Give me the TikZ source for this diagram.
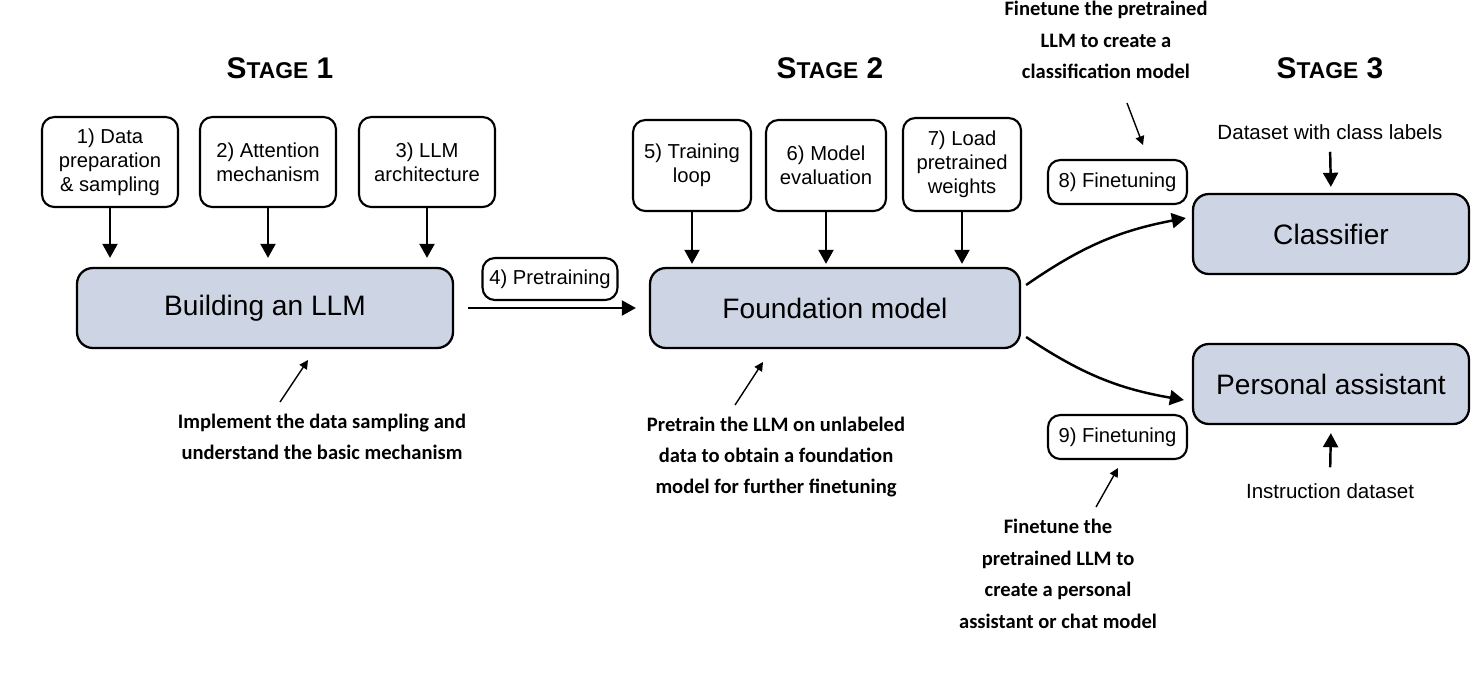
\documentclass[tikz,border=0pt]{standalone}
\usepackage{fontspec}
\setmainfont{Liberation Sans}
\newfontfamily\notefont{Carlito}
\usepackage{tikz}
\usetikzlibrary{positioning,arrows.meta,calc}
\definecolor{boxblue}{RGB}{205,213,228}
\tikzset{stepbox/.style={draw,line width=1.2pt,rounded corners=7pt,align=center,inner sep=0pt,font=\fontsize{11.5}{13.7}\selectfont}}
\tikzset{mainbox/.style={draw,line width=1.3pt,rounded corners=9pt,fill=boxblue,minimum height=1.6cm,font=\fontsize{16}{19}\selectfont}}
\tikzset{feed/.style={-{Triangle[length=8pt,width=8.5pt]},line width=1.4pt}}
\tikzset{note/.style={align=center,font=\notefont\bfseries\fontsize{11.7}{17.9}\selectfont}}
\tikzset{notearrow/.style={-{Triangle[length=5pt,width=5pt]},line width=0.8pt}}
\tikzset{stage/.style={font=\bfseries}}
\newcommand{\stagename}[1]{\fontsize{17}{20}\selectfont S\fontsize{13}{16}\selectfont TAGE\fontsize{17}{20}\selectfont\ #1}

\begin{document}
\begin{tikzpicture}[x=0.02cm,y=-0.02cm]
  \useasboundingbox (0,0) rectangle (1476,694);
  \node[stage] (stage1) at (280,68) {\stagename{1}};
  \node[stage] (stage2) at (830,68) {\stagename{2}};
  \node[stage] (stage3) at (1330,68) {\stagename{3}};

  % stage 1
  \node[stepbox,minimum width=2.72cm,minimum height=1.8cm] (data) at (110,162) {1) Data\\preparation\\\& sampling};
  \node[stepbox,minimum width=2.72cm,minimum height=1.8cm] (attn) at (268,162) {2) Attention\\mechanism};
  \node[stepbox,minimum width=2.72cm,minimum height=1.8cm] (arch) at (427,162) {3) LLM\\architecture};
  \node[mainbox,minimum width=7.52cm] (build) at (265,308) {Building an LLM};
        \foreach \n in {data,attn,arch}
          \draw[feed,shorten >=0.18cm] (\n.south) -- (\n.south |- build.north);

  \node[stepbox,minimum width=2.7cm,minimum height=0.84cm] (pretrain) at (550,279) {4) Pretraining};

  % stage 2
  \node[stepbox,minimum width=2.36cm,minimum height=1.82cm] (loop) at (692,165.5) {5) Training\\loop};
  \node[stepbox,minimum width=2.4cm,minimum height=1.82cm] (eval) at (826,165.5) {6) Model\\evaluation};
  \node[stepbox,minimum width=2.36cm,minimum height=1.86cm] (weights) at (962,164.5) {7) Load\\pretrained\\weights};
  \node[mainbox,minimum width=7.4cm] (found) at (835,308) {Foundation model};
        \foreach \n in {loop,eval,weights}
          \draw[feed,shorten >=0.06cm] (\n.south) -- (\n.south |- found.north);
  \draw[feed,shorten <=0.28cm,shorten >=0.26cm] (build.east) -- (found.west);

  % stage 3
  \node[mainbox,minimum width=5.52cm] (cls) at (1331,234) {Classifier};
  \node[mainbox,minimum width=5.52cm] (assist) at (1331,384) {Personal assistant};
  \node[stepbox,minimum width=2.78cm,minimum height=0.88cm] (tune8) at (1117.5,182) {8) Finetuning};
  \node[stepbox,minimum width=2.78cm,minimum height=0.88cm] (tune9) at (1117.5,437) {9) Finetuning};
  \draw[feed] ([shift={(5,-23)}]found.east) to[bend left=12] ([shift={(-6,-16)}]cls.west);
  \draw[feed] ([shift={(5,29)}]found.east) to[bend right=12] ([shift={(-8,16)}]assist.west);

  \node[font=\fontsize{11.7}{14}\selectfont] (labels) at (1330,132) {Dataset with class labels};
  \node[font=\fontsize{11.7}{14}\selectfont] (instr) at (1330,491) {Instruction dataset};
  \draw[feed,shorten <=0.12cm,shorten >=0.12cm] (labels.south) -- (cls.north);
  \draw[feed,shorten <=0.2cm,shorten >=0.16cm] (instr.north) -- (assist.south);

  % notes
  \node[note] (ftcls) at (1106,40) {Finetune the pretrained\\LLM to create a\\classification model};
  \node[note] (impl) at (322,437) {Implement the data sampling and\\understand the basic mechanism};
  \node[note] (pret) at (776,457) {Pretrain the LLM on unlabeled\\data to obtain a foundation\\model for further finetuning};
  \node[note] (ftasst) at (1058,574) {Finetune the\\pretrained LLM to\\create a personal\\assistant or chat model};
  \coordinate (ftcls tail) at (1127,103);
  \coordinate (ftcls tip) at (1143,145);
  \coordinate (impl tail) at (280,402);
  \coordinate (impl tip) at (308,360);
  \coordinate (pret tail) at (735,405);
  \coordinate (pret tip) at (763,362);
  \coordinate (ftasst tail) at (1096,507);
  \coordinate (ftasst tip) at (1118,468);
  \foreach \n in {ftcls,impl,pret,ftasst}
    \draw[notearrow] (\n\space tail) -- (\n\space tip);
\end{tikzpicture}
\end{document}
